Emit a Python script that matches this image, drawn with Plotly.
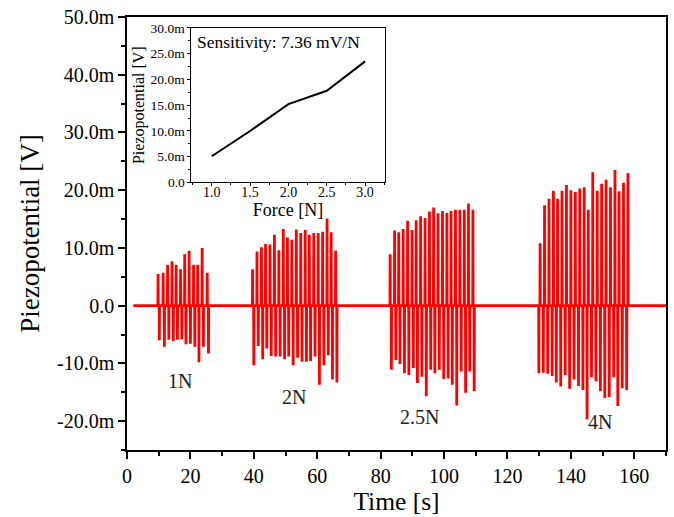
import plotly.graph_objects as go

# ---------------- data (values in mV, times in s) ----------------
b1_t = [9.8, 11.4, 12.8, 14.2, 15.5, 16.9, 18.2, 19.6, 21.0, 22.3, 23.7, 25.3]
b1_pos = [5.5, 5.7, 7.1, 7.7, 7.1, 6.3, 8.9, 9.5, 7.1, 7.1, 10.0, 5.7]
b1_neg = [-6.0, -7.1, -5.9, -6.1, -5.9, -5.8, -6.7, -6.6, -7.1, -9.8, -7.1, -8.3]

b2_t = [39.6, 41.0, 42.4, 43.7, 45.1, 46.5, 47.9, 49.3, 50.6, 52.0,
        53.4, 54.8, 56.2, 57.5, 58.9, 60.3, 61.7, 63.1, 64.4, 65.8]
b2_pos = [6.3, 9.4, 10.1, 10.7, 10.6, 12.3, 9.6, 13.3, 11.8, 11.4,
          13.2, 12.6, 13.1, 12.3, 12.6, 12.6, 12.8, 15.1, 12.7, 9.5]
b2_neg = [-10.3, -7.0, -9.3, -7.4, -8.7, -8.8, -8.8, -9.3, -8.8, -10.3,
          -9.0, -9.7, -9.7, -9.6, -8.8, -13.7, -10.3, -8.6, -12.8, -13.3]

b3_t = [83.0, 84.4, 85.7, 87.1, 88.5, 89.9, 91.2, 92.6, 94.0, 95.4,
        96.7, 98.1, 99.5, 100.9, 102.2, 103.6, 105.0, 106.4, 107.7, 109.1]
b3_pos = [8.9, 13.0, 12.7, 13.3, 14.7, 13.1, 14.8, 15.5, 15.2, 16.3,
          17.0, 16.0, 16.4, 16.1, 16.4, 16.6, 16.6, 16.6, 17.7, 16.6]
b3_neg = [-11.1, -9.4, -10.1, -11.7, -12.0, -10.8, -13.4, -12.3, -15.7, -11.1,
          -11.7, -11.1, -12.7, -12.6, -13.7, -17.3, -11.4, -15.1, -11.4, -14.8]

b4_t = [130.3, 131.7, 133.1, 134.5, 135.8, 137.2, 138.6, 140.0, 141.4, 142.8,
        144.2, 145.5, 146.9, 148.3, 149.7, 151.1, 152.5, 153.9, 155.2, 156.6, 158.0]
b4_pos = [10.8, 17.4, 18.5, 19.9, 18.5, 19.9, 20.9, 20.0, 19.7, 20.3,
          20.5, 16.6, 23.1, 19.9, 21.1, 21.8, 20.5, 23.5, 19.8, 21.3, 23.0]
b4_neg = [-11.7, -11.6, -11.8, -12.2, -13.3, -14.0, -12.0, -14.4, -12.8, -13.9,
          -14.6, -19.7, -12.4, -13.1, -14.8, -16.0, -15.8, -12.4, -17.4, -14.3, -14.6]

neg_shift = [0.4, 0.4, 0.4, -0.4]   # time offset of release spike vs press spike

labels = ["1N", "2N", "2.5N", "4N"]
label_t = [16.6, 52.7, 92.2, 149.2]
label_v = [-13.0, -15.9, -19.2, -20.2]

force = [1.0, 1.5, 2.0, 2.5, 3.0]
sens_v = [5.1, 10.0, 15.2, 17.8, 23.5]   # mV

t_start, t_end = 2.0, 170.0

# ---------------- build trace ----------------
bursts = [(b1_t, b1_pos, b1_neg), (b2_t, b2_pos, b2_neg),
          (b3_t, b3_pos, b3_neg), (b4_t, b4_pos, b4_neg)]
events = []
for (ts, ps, ns), sh in zip(bursts, neg_shift):
    for t, p, n in zip(ts, ps, ns):
        events.append((t, p))
        events.append((t + sh, n))
events.sort()
xs, ys = [t_start], [0.0]
w = 0.06
for t, v in events:
    xs += [t - w, t, t + w]
    ys += [0.0, v, 0.0]
xs.append(t_end)
ys.append(0.0)
ys = [v * 1e-3 for v in ys]

FONT = "Liberation Serif, Times New Roman, serif"

fig = go.Figure()
fig.add_trace(go.Scatter(x=xs, y=ys, mode="lines",
                         line=dict(color="#ff0000", width=2.8),
                         showlegend=False, hoverinfo="skip"))
fig.add_trace(go.Scatter(x=force, y=[v * 1e-3 for v in sens_v], mode="lines",
                         line=dict(color="black", width=2),
                         xaxis="x2", yaxis="y2", showlegend=False))

for lab, t, v in zip(labels, label_t, label_v):
    fig.add_annotation(x=t, y=v * 1e-3, text=lab, showarrow=False,
                       font=dict(family=FONT, size=20, color="#222"),
                       xref="x", yref="y")

fig.add_annotation(xref="paper", yref="paper", x=0.127, y=0.943,
                   xanchor="left", yanchor="middle", showarrow=False,
                   text="Sensitivity: 7.36 mV/N",
                   font=dict(family=FONT, size=17.5, color="black"))

main_yt = [-20, -10, 0, 10, 20, 30, 40, 50]
main_ytxt = ["-20.0m", "-10.0m", "0.0", "10.0m", "20.0m", "30.0m", "40.0m", "50.0m"]
in_yt = [0, 5, 10, 15, 20, 25, 30]
in_ytxt = ["0.0", "5.0m", "10.0m", "15.0m", "20.0m", "25.0m", "30.0m"]

axis_common = dict(showline=True, linecolor="black", mirror=True, showgrid=False,
                   zeroline=False, ticks="outside", tickcolor="black")

fig.update_layout(
    width=674, height=517,
    margin=dict(l=127, r=6, t=13, b=67),
    plot_bgcolor="white", paper_bgcolor="white",
    font=dict(family=FONT, color="black"),
    xaxis=dict(**axis_common, range=[0, 170], linewidth=1.5,
               tickvals=[0, 20, 40, 60, 80, 100, 120, 140, 160], ticklen=7, tickwidth=1.5,
               minor=dict(dtick=10, ticks="outside", ticklen=4, tickcolor="black"),
               tickfont=dict(size=20, family=FONT),
               title=dict(text="Time [s]", font=dict(size=25.5, family=FONT), standoff=2)),
    yaxis=dict(**axis_common, range=[-0.025, 0.050], linewidth=1.5,
               tickvals=[v * 1e-3 for v in main_yt], ticktext=main_ytxt,
               ticklen=7, tickwidth=1.5,
               minor=dict(dtick=0.005, ticks="outside", ticklen=4, tickcolor="black"),
               tickfont=dict(size=20, family=FONT),
               title=dict(text="Piezopotential [V]", font=dict(size=27, family=FONT), standoff=10)),
    xaxis2=dict(**axis_common, domain=[0.1196, 0.4782], anchor="y2", range=[0.736, 3.256],
                tickvals=force, ticktext=["1.0", "1.5", "2.0", "2.5", "3.0"],
                ticklen=3, linewidth=1, ticklabelstandoff=-6,
                minor=dict(dtick=0.25, ticks="outside", ticklen=2, tickcolor="black"),
                tickfont=dict(size=14, family=FONT),
                title=dict(text="Force [N]", font=dict(size=18, family=FONT), standoff=0)),
    yaxis2=dict(**axis_common, domain=[0.6178, 0.9748], anchor="x2", range=[0, 0.030],
                tickvals=[v * 1e-3 for v in in_yt], ticktext=in_ytxt,
                ticklen=3, linewidth=1,
                minor=dict(dtick=0.0025, ticks="outside", ticklen=2, tickcolor="black"),
                tickfont=dict(size=13.5, family=FONT),
                title=dict(text="Piezopotential [V]", font=dict(size=16, family=FONT), standoff=2)),
)

fig.write_html("out.html")
